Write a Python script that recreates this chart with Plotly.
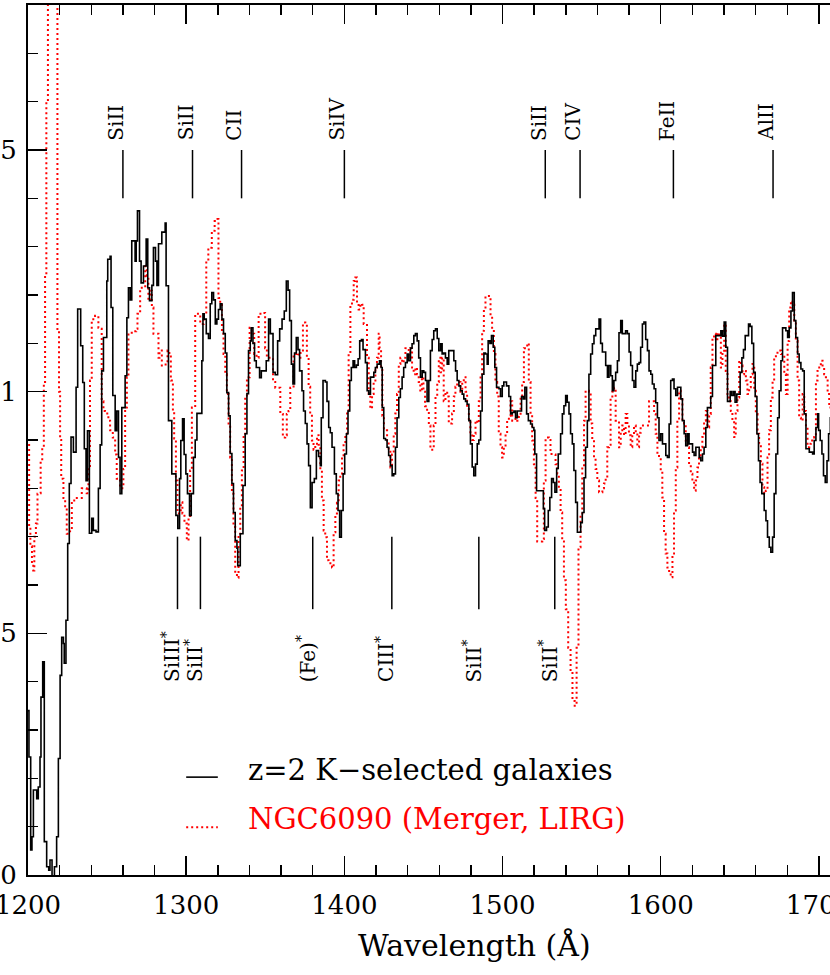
import plotly.graph_objects as go

# ---------------- data ----------------
wave_k = [1200.0, 1200.6, 1201.7, 1202.5, 1203.4, 1205.5, 1206.5, 1207.6, 1208.2, 1209.3, 1210.3, 1211.8,
          1213.1, 1213.9, 1215.2, 1216.7, 1218.1, 1219.2, 1220.3, 1221.3, 1222.4, 1222.9, 1224.0, 1225.1,
          1226.1, 1227.2, 1228.7, 1230.4, 1231.4, 1233.3, 1234.6, 1235.6, 1236.7, 1237.6, 1238.8, 1240.3,
          1241.3, 1243.0, 1244.5, 1245.6, 1246.6, 1247.7, 1249.8, 1250.4, 1251.9, 1252.5, 1253.6, 1255.1,
          1256.1, 1257.2, 1258.2, 1259.3, 1261.4, 1262.5, 1263.5, 1264.6, 1265.6, 1267.7, 1268.4, 1269.2,
          1270.5, 1271.5, 1273.0, 1274.7, 1275.7, 1276.8, 1278.3, 1279.3, 1280.6, 1281.5, 1282.5, 1284.6,
          1286.7, 1287.3, 1288.8, 1290.9, 1293.5, 1294.7, 1295.8, 1296.6, 1297.7, 1298.7, 1299.8, 1300.8,
          1302.1, 1303.2, 1304.6, 1305.7, 1306.8, 1309.9, 1310.6, 1311.4, 1312.7, 1314.1, 1315.2, 1316.2,
          1317.3, 1318.4, 1319.4, 1320.4, 1321.5, 1322.6, 1323.6, 1324.7, 1325.7, 1326.8, 1327.8, 1328.9,
          1329.9, 1331.0, 1332.1, 1332.6, 1334.2, 1335.9, 1337.3, 1338.4, 1339.4, 1340.5, 1341.1, 1342.2,
          1343.2, 1344.3, 1346.4, 1347.5, 1350.6, 1352.1, 1353.2, 1354.9, 1356.3, 1357.8, 1359.1, 1360.6,
          1362.0, 1363.3, 1364.4, 1365.4, 1366.5, 1367.5, 1368.5, 1369.6, 1370.7, 1371.7, 1373.2, 1374.2,
          1375.3, 1376.4, 1377.4, 1378.5, 1379.6, 1381.0, 1382.3, 1383.7, 1384.8, 1385.4, 1386.5, 1388.0,
          1389.0, 1390.1, 1391.1, 1392.2, 1393.7, 1394.9, 1396.0, 1397.0, 1398.1, 1399.2, 1400.2, 1401.3,
          1402.3, 1403.4, 1404.4, 1405.5, 1406.5, 1407.6, 1408.7, 1409.7, 1410.8, 1411.8, 1413.3, 1414.4,
          1415.4, 1416.5, 1418.6, 1419.6, 1420.7, 1422.2, 1423.2, 1423.9, 1424.9, 1426.0, 1427.0, 1428.0,
          1429.1, 1430.2, 1431.2, 1432.3, 1433.3, 1434.4, 1435.4, 1436.5, 1437.5, 1438.6, 1439.7, 1440.7,
          1441.8, 1442.8, 1443.9, 1444.9, 1446.0, 1447.0, 1448.1, 1449.2, 1450.2, 1451.3, 1452.3, 1453.4,
          1454.4, 1455.5, 1456.5, 1457.6, 1458.7, 1459.7, 1460.8, 1461.8, 1462.8, 1463.9, 1465.0, 1466.0,
          1469.2, 1470.3, 1471.3, 1472.4, 1473.4, 1474.5, 1475.5, 1476.6, 1477.6, 1478.7, 1479.7, 1480.8,
          1481.8, 1482.9, 1484.0, 1485.0, 1486.1, 1487.1, 1488.2, 1489.2, 1490.3, 1490.9, 1492.0, 1493.0,
          1494.1, 1495.1, 1496.2, 1497.7, 1498.7, 1499.8, 1500.8, 1502.5, 1504.0, 1505.1, 1506.1, 1507.2,
          1508.2, 1509.3, 1512.0, 1513.1, 1514.1, 1515.2, 1516.3, 1517.7, 1518.8, 1519.8, 1520.4, 1521.5,
          1525.8, 1526.6, 1527.8, 1528.9, 1529.9, 1531.0, 1532.1, 1533.1, 1534.2, 1535.2, 1536.7, 1537.8,
          1538.8, 1539.9, 1540.9, 1542.0, 1543.0, 1544.1, 1545.1, 1546.2, 1547.3, 1549.4, 1550.4, 1551.5,
          1552.5, 1553.6, 1554.6, 1555.7, 1556.8, 1557.8, 1558.9, 1561.0, 1562.0, 1563.1, 1565.2, 1566.3,
          1567.3, 1568.4, 1569.4, 1570.4, 1571.5, 1572.6, 1573.6, 1574.7, 1575.7, 1577.8, 1578.9, 1580.0,
          1581.0, 1582.1, 1583.1, 1584.2, 1585.2, 1586.3, 1587.3, 1588.4, 1589.4, 1590.5, 1591.6, 1592.6,
          1593.7, 1594.7, 1595.8, 1596.8, 1597.9, 1598.9, 1600.0, 1601.1, 1603.2, 1604.2, 1605.3, 1606.3,
          1607.4, 1608.4, 1609.5, 1610.6, 1612.7, 1613.7, 1614.8, 1615.8, 1616.9, 1617.9, 1620.1, 1621.1,
          1622.2, 1624.3, 1625.3, 1626.4, 1627.4, 1628.5, 1629.5, 1631.6, 1632.7, 1634.8, 1638.0, 1639.0,
          1640.1, 1641.1, 1642.2, 1643.9, 1644.9, 1646.0, 1647.0, 1648.1, 1650.2, 1651.3, 1652.3, 1653.4,
          1655.5, 1656.5, 1657.6, 1658.7, 1659.7, 1660.8, 1661.8, 1662.8, 1663.9, 1665.4, 1666.5, 1667.5,
          1668.6, 1669.6, 1670.7, 1671.7, 1672.8, 1673.9, 1674.9, 1676.0, 1677.0, 1679.1, 1680.2, 1681.2,
          1682.3, 1683.3, 1684.4, 1685.4, 1686.5, 1687.5, 1688.6, 1689.7, 1690.7, 1691.8, 1693.9, 1696.0,
          1697.0, 1698.1, 1699.2, 1699.8, 1700.8, 1701.9, 1702.9, 1704.0, 1705.1, 1706.1, 1707.2, 1710.0]
flux_k = [0.34, 0.244, 0.052, 0.079, 0.176, 0.158, 0.182, 0.244, 0.368, 0.441, 0.069, 0.017,
          0.01, 0.031, -0.02, 0.017, 0.079, 0.241, 0.413, 0.492, 0.479, 0.438, 0.527, 0.686,
          0.81, 0.906, 0.875, 1.009, 1.171, 1.095, 1.019, 0.882, 0.816, 0.919, 0.707, 0.738,
          0.713, 0.71, 0.80, 0.89, 1.043, 1.112, 1.229, 1.274, 1.28, 1.174, 0.992, 0.919,
          0.96, 0.864, 0.789, 0.967, 1.033, 1.153, 1.215, 1.19, 1.312, 1.27, 1.312, 1.374,
          1.27, 1.225, 1.26, 1.316, 1.215, 1.188, 1.22, 1.298, 1.27, 1.22, 1.306, 1.33,
          1.349, 1.219, 0.94, 0.83, 0.744, 0.717, 0.82, 0.899, 0.944, 0.87, 0.83, 0.789,
          0.744, 0.789, 0.864, 0.9, 0.955, 1.064, 1.161, 1.15, 1.12, 1.11, 1.182, 1.205,
          1.19, 1.14, 1.15, 1.17, 1.182, 1.15, 1.12, 1.08, 0.998, 0.95, 0.872, 0.81,
          0.75, 0.692, 0.676, 0.64, 0.706, 0.806, 0.913, 0.996, 1.085, 1.105, 1.132, 1.1,
          1.064, 1.05, 1.029, 1.043, 1.064, 1.15, 1.12, 1.04, 1.035, 1.105, 1.13, 1.15,
          1.167, 1.229, 1.21, 1.147, 1.057, 1.016, 1.08, 1.112, 1.087, 1.043, 1.002, 0.96,
          0.934, 0.892, 0.847, 0.76, 0.812, 0.82, 0.878, 0.866, 0.847, 0.946, 1.023, 1.02,
          0.98, 0.926, 0.915, 0.885, 0.83, 0.789, 0.754, 0.699, 0.754, 0.83, 0.871, 0.913,
          0.96, 1.023, 1.05, 1.064, 1.05, 1.055, 1.068, 1.105, 1.108, 1.087, 1.06, 1.002,
          0.995, 1.03, 1.04, 1.05, 1.057, 1.064, 1.05, 0.967, 0.903, 0.9, 0.885, 0.868,
          0.847, 0.826, 0.83, 0.885, 0.946, 0.988, 1.006, 1.03, 1.05, 1.06, 1.078, 1.064,
          1.09, 1.099, 1.116, 1.12, 1.105, 1.07, 1.03, 1.043, 1.04, 1.023, 0.98, 1.023,
          1.085, 1.108, 1.126, 1.13, 1.11, 1.085, 1.099, 1.078, 1.08, 1.07, 1.057, 1.085,
          1.064, 1.043, 1.023, 1.012, 1.002, 0.995, 0.985, 0.98, 0.974, 0.94, 0.892, 0.844,
          0.826, 0.85, 0.892, 0.9, 0.96, 1.036, 1.08, 1.078, 1.057, 1.105, 1.1, 1.116,
          1.092, 1.05, 1.009, 1.006, 0.99, 1.012, 1.02, 1.012, 0.99, 0.954, 0.957, 0.96,
          0.946, 0.96, 0.99, 0.985, 1.009, 0.954, 0.94, 0.933, 0.926, 0.92, 0.871, 0.795,
          0.758, 0.713, 0.72, 0.754, 0.781, 0.82, 0.812, 0.792, 0.841, 0.871, 0.913, 0.954,
          0.971, 0.992, 0.978, 0.954, 0.913, 0.892, 0.837, 0.771, 0.709, 0.729, 0.75, 0.822,
          0.885, 0.94, 1.036, 1.078, 1.099, 1.116, 1.13, 1.15, 1.1, 1.082, 1.054, 1.03,
          1.054, 1.033, 1.002, 1.023, 1.04, 1.064, 1.122, 1.147, 1.12, 1.126, 1.12, 1.082,
          1.054, 1.023, 1.009, 1.043, 1.057, 1.06, 1.092, 1.14, 1.144, 1.108, 1.085, 1.043,
          1.036, 1.016, 1.006, 0.977, 0.946, 0.899, 0.913, 0.892, 0.868, 0.864, 0.933, 1.023,
          1.026, 1.006, 0.992, 1.009, 0.985, 0.94, 0.913, 0.888, 0.913, 0.892, 0.875, 0.868,
          0.885, 0.864, 0.857, 0.871, 0.885, 0.926, 0.967, 0.99, 1.054, 1.116, 1.126, 1.115,
          1.144, 1.092, 0.98, 1.0, 0.992, 1.0, 0.978, 0.995, 1.04, 1.07, 1.087, 1.116,
          1.14, 1.135, 1.1, 1.04, 0.99, 0.913, 0.857, 0.812, 0.789, 0.754, 0.733, 0.699,
          0.678, 0.668, 0.699, 0.789, 0.871, 0.946, 1.002, 1.064, 1.132, 1.126, 1.112, 1.132,
          1.167, 1.205, 1.147, 1.112, 1.078, 1.06, 1.047, 1.043, 0.954, 0.882, 0.875, 0.871,
          0.899, 0.926, 0.954, 0.92, 0.899, 0.871, 0.826, 0.812, 0.857, 0.913, 0.946, 0.95]

wave_n = [1200.0, 1200.7, 1201.5, 1202.5, 1203.3, 1204.0, 1205.0, 1206.0, 1207.0, 1208.0, 1209.0, 1210.0,
          1210.8, 1211.6, 1212.6, 1214.5, 1216.5, 1218.6, 1219.6, 1220.3, 1221.0, 1222.4, 1223.5, 1224.5,
          1226.6, 1227.7, 1230.0, 1234.0, 1237.1, 1238.2, 1239.2, 1240.3, 1242.4, 1244.5, 1246.0, 1246.6,
          1247.7, 1248.7, 1250.8, 1251.9, 1253.6, 1255.1, 1256.1, 1258.2, 1260.3, 1261.4, 1262.5, 1263.5,
          1265.6, 1268.4, 1269.2, 1270.9, 1272.0, 1274.1, 1275.1, 1276.1, 1277.2, 1278.3, 1279.3, 1282.5,
          1283.1, 1284.6, 1287.0, 1288.2, 1289.2, 1290.3, 1291.6, 1292.4, 1293.5, 1294.5, 1296.6, 1297.6,
          1298.9, 1300.4, 1301.5, 1302.5, 1303.6, 1305.7, 1308.9, 1311.0, 1312.7, 1314.0, 1316.2, 1318.0,
          1319.8, 1320.4, 1321.5, 1322.6, 1323.6, 1324.7, 1325.7, 1326.8, 1327.8, 1328.9, 1329.9, 1331.0,
          1332.1, 1333.1, 1334.2, 1335.2, 1336.3, 1337.3, 1338.4, 1340.1, 1341.5, 1343.0, 1344.5, 1345.8,
          1347.9, 1349.9, 1351.0, 1353.0, 1354.9, 1356.3, 1358.4, 1359.5, 1361.1, 1362.6, 1363.6, 1364.7,
          1365.8, 1367.9, 1370.0, 1371.1, 1372.2, 1373.8, 1375.3, 1376.3, 1377.4, 1378.4, 1379.5, 1380.5,
          1381.6, 1382.7, 1383.7, 1384.8, 1385.8, 1386.9, 1387.9, 1389.0, 1390.0, 1392.2, 1393.2, 1394.3,
          1395.3, 1396.4, 1397.4, 1398.5, 1399.5, 1400.6, 1401.7, 1402.7, 1403.8, 1404.8, 1405.9, 1406.9,
          1408.0, 1409.0, 1410.1, 1411.1, 1412.2, 1414.3, 1415.4, 1416.4, 1417.5, 1418.5, 1419.6, 1420.6,
          1421.7, 1422.3, 1423.2, 1424.0, 1425.0, 1427.0, 1428.0, 1429.1, 1430.1, 1431.2, 1432.2, 1433.3,
          1434.4, 1435.4, 1436.5, 1437.5, 1438.6, 1440.7, 1441.7, 1442.8, 1443.8, 1444.9, 1445.9, 1447.0,
          1448.0, 1449.0, 1450.0, 1451.0, 1452.3, 1453.4, 1454.4, 1456.5, 1457.6, 1458.7, 1459.7, 1460.8,
          1461.8, 1462.8, 1463.9, 1465.0, 1466.0, 1468.1, 1469.2, 1470.2, 1471.3, 1473.4, 1474.5, 1475.5,
          1476.6, 1477.6, 1478.7, 1479.7, 1480.8, 1481.8, 1482.9, 1484.0, 1485.0, 1486.1, 1487.1, 1488.2,
          1489.2, 1491.3, 1492.4, 1493.4, 1494.5, 1495.5, 1496.6, 1497.6, 1498.7, 1499.7, 1500.8, 1501.9,
          1502.9, 1504.0, 1505.0, 1506.1, 1508.2, 1509.3, 1510.3, 1511.4, 1512.4, 1513.5, 1515.6, 1516.6,
          1517.7, 1518.7, 1519.8, 1520.9, 1521.9, 1525.1, 1526.1, 1527.2, 1529.3, 1530.3, 1532.5, 1533.5,
          1534.6, 1535.6, 1536.7, 1537.7, 1538.8, 1540.0, 1541.5, 1543.0, 1544.2, 1545.6, 1546.8, 1548.0,
          1549.3, 1550.4, 1551.5, 1552.5, 1554.6, 1555.7, 1556.7, 1557.8, 1558.8, 1559.9, 1561.0, 1563.1,
          1564.1, 1565.2, 1566.2, 1567.3, 1568.3, 1569.4, 1570.5, 1571.5, 1572.6, 1573.6, 1574.7, 1575.7,
          1576.8, 1577.8, 1578.9, 1579.9, 1581.0, 1582.0, 1583.1, 1584.2, 1585.2, 1586.3, 1587.3, 1591.5,
          1592.6, 1594.7, 1595.8, 1596.8, 1597.9, 1598.9, 1600.0, 1601.0, 1602.1, 1603.1, 1604.2, 1605.3,
          1606.3, 1607.4, 1608.4, 1609.5, 1610.5, 1611.6, 1612.6, 1613.7, 1614.7, 1615.8, 1616.9, 1617.9,
          1619.0, 1620.0, 1621.1, 1622.1, 1623.2, 1624.2, 1625.3, 1626.3, 1627.4, 1628.5, 1629.5, 1630.6,
          1631.6, 1632.7, 1633.7, 1634.8, 1635.8, 1636.9, 1638.0, 1639.0, 1640.1, 1641.1, 1642.2, 1643.2,
          1644.3, 1645.3, 1646.4, 1647.4, 1648.5, 1649.6, 1650.6, 1651.7, 1652.7, 1653.8, 1654.8, 1655.9,
          1656.9, 1658.0, 1659.1, 1660.1, 1661.2, 1662.2, 1663.3, 1664.3, 1665.4, 1666.4, 1667.5, 1668.5,
          1669.6, 1670.7, 1671.7, 1672.8, 1673.8, 1676.0, 1677.0, 1678.1, 1679.1, 1680.2, 1681.2, 1682.3,
          1683.3, 1684.4, 1685.4, 1686.5, 1687.5, 1688.6, 1689.7, 1690.7, 1691.8, 1692.8, 1693.9, 1694.9,
          1697.0, 1698.1, 1699.1, 1700.2, 1701.2, 1702.3, 1703.3, 1704.4, 1705.5, 1706.5, 1707.6, 1710.0]
flux_n = [0.9, 0.72, 0.68, 0.64, 0.63, 0.70, 0.727, 0.789, 0.79, 0.857, 0.885, 1.02,
          1.24, 1.6, 2.3, 2.5, 2.3, 1.126, 1.0, 0.9, 0.82, 0.78, 0.76, 0.706,
          0.713, 0.775, 0.78, 0.80, 0.79, 0.843, 1.023, 1.15, 1.157, 1.132, 1.13, 0.98,
          0.96, 0.955, 0.94, 0.92, 0.905, 0.87, 0.82, 0.80, 0.84, 0.967, 1.03, 1.122,
          1.125, 1.13, 1.161, 1.215, 1.215, 1.264, 1.24, 1.188, 1.209, 1.174, 1.12, 1.07,
          1.085, 1.054, 1.06, 1.085, 1.08, 1.023, 0.96, 0.903, 0.816, 0.748, 0.771, 0.748,
          0.727, 0.692, 0.74, 0.837, 0.967, 1.161, 1.14, 1.16, 1.27, 1.298, 1.333, 1.353,
          1.357, 1.194, 1.18, 1.12, 1.078, 1.036, 0.995, 0.934, 0.864, 0.789, 0.72, 0.624,
          0.615, 0.706, 0.76, 0.837, 0.913, 0.988, 1.03, 1.132, 1.12, 1.078, 1.07, 1.161,
          1.163, 1.09, 1.07, 1.07, 1.02, 1.008, 1.008, 0.954, 0.905, 0.91, 0.954, 0.96,
          1.008, 1.078, 1.08, 1.07, 1.08, 1.143, 1.14, 1.07, 1.01, 0.954, 0.899, 0.88,
          0.89, 0.91, 0.89, 0.837, 0.775, 0.713, 0.699, 0.651, 0.645, 0.636, 0.709, 0.748,
          0.77, 0.816, 0.83, 0.864, 0.892, 0.913, 0.96, 1.078, 1.178, 1.19, 1.229, 1.236,
          1.182, 1.17, 1.182, 1.18, 1.14, 1.07, 0.995, 0.965, 0.995, 1.02, 1.05, 1.07,
          1.12, 1.09, 1.05, 0.95, 0.92, 0.899, 0.88, 0.843, 0.87, 0.913, 0.955, 0.995,
          1.057, 1.07, 1.06, 1.07, 1.09, 1.07, 1.09, 1.05, 1.036, 1.05, 1.036, 1.02,
          1.0, 1.03, 1.0, 0.97, 0.96, 0.93, 0.88, 0.93, 0.99, 1.02, 1.07, 1.04,
          1.07, 0.98, 1.0, 0.99, 0.934, 0.955, 0.99, 1.01, 1.02, 1.0, 1.02, 1.03,
          1.0, 0.967, 0.94, 0.913, 0.9, 0.913, 0.94, 0.935, 0.98, 1.036, 1.126, 1.174,
          1.198, 1.198, 1.153, 1.13, 1.078, 1.02, 0.99, 0.913, 0.885, 0.864, 0.885, 0.913,
          0.94, 0.95, 0.98, 0.94, 0.95, 0.94, 0.95, 0.99, 1.02, 1.09, 1.1, 1.02,
          0.954, 0.899, 0.85, 0.78, 0.69, 0.695, 0.816, 0.905, 0.9, 0.871, 0.87, 0.85,
          0.83, 0.8, 0.75, 0.69, 0.61, 0.55, 0.47, 0.42, 0.36, 0.35, 0.47, 0.678,
          0.748, 0.844, 0.94, 1.002, 1.0, 0.934, 0.9, 0.864, 0.84, 0.816, 0.792, 0.8,
          0.81, 0.82, 0.885, 0.89, 0.988, 1.0, 1.008, 0.94, 0.94, 0.885, 0.92, 0.93,
          0.91, 0.954, 0.93, 0.91, 0.885, 0.91, 0.93, 0.915, 0.885, 0.915, 0.93, 0.93,
          0.98, 0.98, 0.954, 0.913, 0.871, 0.864, 0.837, 0.781, 0.706, 0.665, 0.636, 0.624,
          0.616, 0.665, 0.754, 0.843, 0.94, 1.002, 0.99, 0.94, 0.934, 0.899, 0.885, 0.85,
          0.83, 0.816, 0.795, 0.816, 0.843, 0.864, 0.885, 0.906, 0.94, 0.96, 0.926, 0.954,
          1.05, 1.112, 1.12, 1.105, 1.122, 1.112, 1.05, 1.078, 1.14, 1.043, 0.995, 0.98,
          0.96, 0.94, 0.906, 0.96, 0.988, 1.064, 1.054, 1.036, 1.043, 1.023, 0.995, 1.009,
          1.036, 1.057, 1.002, 0.954, 0.913, 0.892, 0.851, 0.802, 0.789, 0.795, 0.864, 0.92,
          0.988, 1.023, 1.07, 1.078, 1.085, 1.078, 1.078, 1.036, 0.995, 1.105, 1.174, 1.188,
          1.18, 1.147, 1.105, 1.023, 0.946, 0.94, 0.995, 0.96, 0.926, 0.885, 0.892, 0.899,
          0.906, 1.023, 1.043, 1.05, 1.064, 1.054, 1.036, 1.03, 0.995, 0.967, 0.96, 0.96]

top_lines = [1260, 1304, 1335, 1400, 1527, 1549, 1608, 1671]
top_labels = ["SiII", "SiII", "CII", "SiIV", "SiII", "CIV", "FeII", "AlII"]
bot_lines = [1294.5, 1309, 1380, 1430, 1485, 1533]
bot_labels = ["SiIII*", "SiII*", "(Fe)*", "CIII*", "SiII*", "SiII*"]

legend_names = ["z=2 K\u2212selected galaxies", "NGC6090 (Merger, LIRG)"]
x_title = "Wavelength (\u00c5)"
y_tickvals = [0, 0.5, 1, 1.5]
y_ticktext = ["0", "0.5", "1", "1.5"]
x_tickvals = [1200, 1300, 1400, 1500, 1600, 1700]

# ---------------- figure ----------------
FONT = "DejaVu Serif"
RED = "#ff0000"

fig = go.Figure()
fig.add_trace(go.Scatter(x=wave_n, y=flux_n, mode="lines", line_shape="hv",
                         line=dict(color=RED, width=2, dash="2px,3px"), showlegend=False))
fig.add_trace(go.Scatter(x=wave_k, y=flux_k, mode="lines", line_shape="hv",
                         line=dict(color="black", width=1.6), showlegend=False))

shapes = []
annotations = []
for xv, lab in zip(top_lines, top_labels):
    shapes.append(dict(type="line", xref="x", yref="y", x0=xv, x1=xv, y0=1.4, y1=1.5,
                       line=dict(color="black", width=1.5)))
    annotations.append(dict(x=xv, y=1.515, xref="x", yref="y", text=lab, showarrow=False,
                            textangle=-90, xanchor="center", yanchor="bottom", xshift=-7,
                            font=dict(family=FONT, size=20, color="black")))
for xv, lab in zip(bot_lines, bot_labels):
    shapes.append(dict(type="line", xref="x", yref="y", x0=xv, x1=xv, y0=0.55, y1=0.7,
                       line=dict(color="black", width=1.5)))
    txt = lab.replace("*", "<sup>*</sup>")
    annotations.append(dict(x=xv, y=0.395, xref="x", yref="y", text=txt, showarrow=False,
                            textangle=-90, xanchor="center", yanchor="bottom", xshift=-7,
                            font=dict(family=FONT, size=20, color="black")))

# legend (drawn manually, as in the original)
shapes.append(dict(type="line", xref="x", yref="y", x0=1300, x1=1320, y0=0.2025, y1=0.2025,
                   line=dict(color="black", width=1.6)))
shapes.append(dict(type="line", xref="x", yref="y", x0=1300, x1=1320, y0=0.099, y1=0.099,
                   line=dict(color=RED, width=2, dash="2px,3px")))
annotations.append(dict(x=1338, y=0.217, xref="x", yref="y", text=legend_names[0], showarrow=False,
                        xanchor="left", yanchor="middle",
                        font=dict(family=FONT, size=29, color="black")))
annotations.append(dict(x=1338, y=0.116, xref="x", yref="y", text=legend_names[1], showarrow=False,
                        xanchor="left", yanchor="middle",
                        font=dict(family=FONT, size=29, color=RED)))
annotations.append(dict(x=1482, y=-(945 - 875) / 870, xref="x", yref="paper", text=x_title,
                        showarrow=False, xanchor="center", yanchor="middle",
                        font=dict(family=FONT, size=30, color="black")))

fig.update_layout(
    width=830, height=975,
    margin=dict(l=28, r=0, t=5, b=100, pad=0, autoexpand=False),
    paper_bgcolor="white", plot_bgcolor="white",
    showlegend=False,
    shapes=shapes, annotations=annotations,
    font=dict(family=FONT, size=26, color="black"),
)
fig.update_xaxes(range=[1200, 1707], showgrid=False, zeroline=False, automargin=False,
                 showline=True, linecolor="black", linewidth=2, mirror="ticks",
                 ticks="inside", ticklen=19, tickwidth=1.5, tickcolor="black",
                 tickvals=x_tickvals, ticktext=[str(v) for v in x_tickvals],
                 tickfont=dict(family=FONT, size=26, color="black"),
                 ticklabelstandoff=6, ticklabeloverflow="allow",
                 minor=dict(ticks="inside", ticklen=10, dtick=20, tick0=1200,
                            tickwidth=1.5, tickcolor="black", showgrid=False))
fig.update_yaxes(range=[0, 1.8], showgrid=False, zeroline=False, automargin=False,
                 showline=True, linecolor="black", linewidth=2, mirror=False,
                 ticks="inside", ticklen=19, tickwidth=1.5, tickcolor="black",
                 tickvals=y_tickvals, ticktext=y_ticktext,
                 tickfont=dict(family=FONT, size=26, color="black"),
                 ticklabelstandoff=4, ticklabeloverflow="allow",
                 minor=dict(ticks="inside", ticklen=10, dtick=0.1, tick0=0,
                            tickwidth=1.5, tickcolor="black", showgrid=False))

fig.write_html("out.html", config={"displayModeBar": False, "staticPlot": True},
               post_script="document.body.style.margin='0px';document.body.style.overflow='hidden';")
